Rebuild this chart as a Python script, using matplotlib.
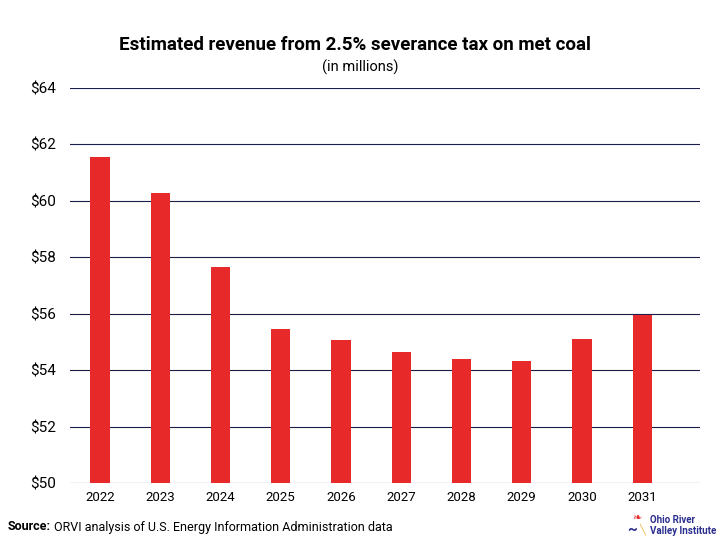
import matplotlib
matplotlib.use('Agg')
import matplotlib.pyplot as plt
import numpy as np

# --- Data ---
years = ['2022', '2023', '2024', '2025', '2026', '2027', '2028', '2029', '2030', '2031']
revenue = [61.56, 60.29, 57.66, 55.47, 55.08, 54.65, 54.40, 54.33, 55.12, 55.94]
y_ticks = [50, 52, 54, 56, 58, 60, 62, 64]

RED = '#e8292a'
NAVY = '#1b1e4b'

plt.rcParams['font.family'] = ['Roboto', 'DejaVu Sans']

fig = plt.figure(figsize=(7.2, 5.4), dpi=100)
ax = fig.add_axes([70 / 720, 1 - 483 / 540, 630 / 720, 395 / 540])

x = np.arange(len(years))
ax.bar(x, revenue, width=0.32, color=RED, zorder=3)

ax.set_ylim(50, 64)
ax.set_xlim(-0.5, 9.96)
ax.set_yticks(y_ticks)
ax.set_yticklabels([f'${v}' for v in y_ticks], fontsize=11)
ax.set_xticks(x)
ax.set_xticklabels(years, fontsize=9.5)
ax.grid(True, axis='y', color=NAVY, linewidth=0.8, zorder=1)
for s in ax.spines.values():
    s.set_visible(False)
ax.tick_params(axis='both', length=0)
ax.tick_params(axis='y', pad=10)
ax.tick_params(axis='x', pad=6)

fig.text(0.493, 1 - 45 / 540, 'Estimated revenue from 2.5% severance tax on met coal',
         ha='center', va='center', fontsize=13.5, fontweight='bold')
fig.text(0.5, 1 - 67 / 540, '(in millions)', ha='center', va='center', fontsize=10.5)

fig.text(8 / 720, 1 - 527 / 540, 'Source:', ha='left', va='center',
         fontsize=9, fontweight='bold')
fig.text(54 / 720, 1 - 527 / 540, 'ORVI analysis of U.S. Energy Information Administration data',
         ha='left', va='center', fontsize=9)

# logo
fig.text(650 / 720, 1 - 520 / 540, 'Ohio River', ha='left', va='center',
         fontsize=7, fontweight='bold', color='#2b2f8f')
fig.text(650 / 720, 1 - 531 / 540, 'Valley Institute', ha='left', va='center',
         fontsize=7, fontweight='bold', color='#2b2f8f')
fig.text(637 / 720, 1 - 518 / 540, '\u2767', ha='center', va='center',
         fontsize=8, color=RED, family=['DejaVu Sans'])
fig.text(632 / 720, 1 - 530 / 540, '~', ha='center', va='center',
         fontsize=11, fontweight='bold', color='#2b2f8f')
fig.text(642 / 720, 1 - 529 / 540, '\u2572', ha='center', va='center',
         fontsize=7, color='#f0b43c', family=['DejaVu Sans'])

fig.savefig('out.png', dpi=100)
